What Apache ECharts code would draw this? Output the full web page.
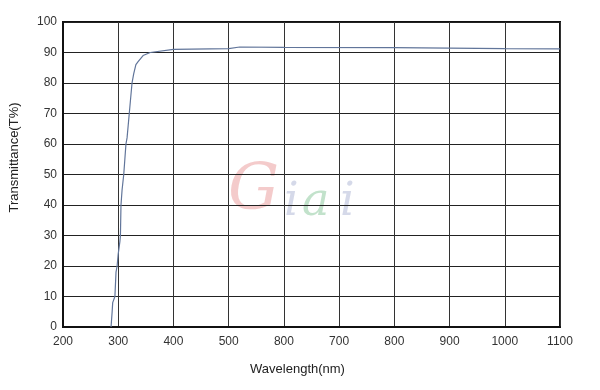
<!DOCTYPE html>
<html>
<head>
<meta charset="utf-8">
<script src="https://cdn.jsdelivr.net/npm/echarts@6/dist/echarts.min.js"></script>
<style>
  html, body { margin: 0; padding: 0; background: #fff; }
  #chart { width: 600px; height: 390px; }
</style>
</head>
<body>
<div id="chart"></div>
<script>
// wavelength (nm) and transmittance (%)
const wavelength = [287, 289, 290, 292, 294, 296, 298, 300, 303, 304, 305, 307, 310, 312, 314, 316, 318, 320, 322, 325, 328, 332, 336, 345, 358, 400, 500, 520, 600, 800, 1000, 1100];
const transmittance = [0, 5, 8, 8, 10, 18, 20, 24, 28, 30, 40, 45, 50, 55, 60, 62, 66, 70, 74, 80, 83, 86, 87, 89, 90, 91, 91.3, 91.8, 91.7, 91.6, 91.3, 91.2];

// tick labels as printed (the 600 position reads "800" in the original)
const xTickLabels = ['200', '300', '400', '500', '800', '700', '800', '900', '1000', '1100'];
const yTicks = [0, 10, 20, 30, 40, 50, 60, 70, 80, 90, 100];

const chart = echarts.init(document.getElementById('chart'));

const font = 'Liberation Sans, Arial, sans-serif';

chart.setOption({
  animation: false,
  grid: {
    left: 63, right: 40, top: 22, bottom: 63,
    show: true,
    borderColor: '#111',
    borderWidth: 2
  },
  xAxis: {
    type: 'value',
    min: 200, max: 1100, interval: 100,
    name: 'Wavelength(nm)',
    nameLocation: 'middle',
    nameGap: 36,
    nameTextStyle: { fontFamily: font, fontSize: 13, color: '#222', padding: [0, 28, 0, 0] },
    axisLine: { show: true, lineStyle: { color: '#111', width: 2 } },
    axisTick: { show: false },
    axisLabel: {
      fontFamily: font, fontSize: 12, color: '#333', margin: 9,
      formatter: v => xTickLabels[Math.round((v - 200) / 100)]
    },
    splitLine: { show: true, lineStyle: { color: '#333', width: 1 } }
  },
  yAxis: {
    type: 'value',
    min: yTicks[0], max: yTicks[yTicks.length - 1], interval: 10,
    name: 'Transmittance(T%)',
    nameLocation: 'middle',
    nameGap: 42,
    nameTextStyle: { fontFamily: font, fontSize: 13, color: '#222', padding: [0, 0, 0, 34] },
    axisLine: { show: true, lineStyle: { color: '#111', width: 2 } },
    axisTick: { show: false },
    axisLabel: { fontFamily: font, fontSize: 12, color: '#333', margin: 6 },
    splitLine: { show: true, lineStyle: { color: '#222', width: 1 } }
  },
  // faint watermark
  graphic: [
    { type: 'text', left: 228, top: 160, style: { text: 'G', font: 'italic 64px "DejaVu Serif"', fill: 'rgba(230,140,140,0.45)' } },
    { type: 'text', left: 284, top: 180, style: { text: 'i', font: 'italic 46px "DejaVu Serif"', fill: 'rgba(150,160,200,0.4)' } },
    { type: 'text', left: 302, top: 180, style: { text: 'a', font: 'italic 46px "DejaVu Serif"', fill: 'rgba(120,190,140,0.45)' } },
    { type: 'text', left: 340, top: 180, style: { text: 'i', font: 'italic 46px "DejaVu Serif"', fill: 'rgba(150,160,200,0.4)' } }
  ],
  series: [{
    type: 'line',
    data: wavelength.map((w, i) => [w, transmittance[i]]),
    showSymbol: false,
    lineStyle: { color: '#61759a', width: 1.2 },
    z: 5
  }]
});
</script>
</body>
</html>
